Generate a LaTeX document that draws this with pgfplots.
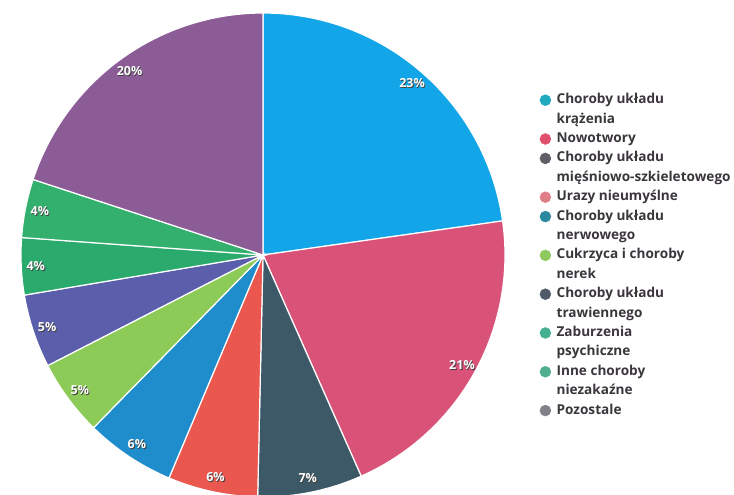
\documentclass[border=0pt]{standalone}
\usepackage{fontspec}
\setmainfont{Open Sans}
\usepackage{pgfplots}
\pgfplotsset{compat=1.18}

\definecolor{s1}{HTML}{12A6E8}
\definecolor{s2}{HTML}{D95277}
\definecolor{s3}{HTML}{3D5866}
\definecolor{s4}{HTML}{E9574E}
\definecolor{s5}{HTML}{1F8CCC}
\definecolor{s6}{HTML}{8CCB58}
\definecolor{s7}{HTML}{5B5FAB}
\definecolor{s8}{HTML}{2AAA6C}
\definecolor{s9}{HTML}{33B06E}
\definecolor{s10}{HTML}{8B5C96}

\definecolor{l1}{HTML}{1EA9BE}
\definecolor{l2}{HTML}{E0506C}
\definecolor{l3}{HTML}{5E5E66}
\definecolor{l4}{HTML}{E07E88}
\definecolor{l5}{HTML}{2A88A0}
\definecolor{l6}{HTML}{8FC95E}
\definecolor{l7}{HTML}{505A68}
\definecolor{l8}{HTML}{44B090}
\definecolor{l9}{HTML}{4FAE8E}
\definecolor{l10}{HTML}{808088}
\definecolor{txt}{HTML}{3A363C}

\newcommand\cum{0}
% #1 value (percent), #2 colour, #3 label, #4 radius factor of label
\newcommand{\pieslice}[4]{%
  \pgfmathsetmacro{\angA}{\cum*3.6}%
  \pgfmathsetmacro{\angB}{(\cum+#1)*3.6}%
  \pgfmathsetmacro{\angM}{(\angA+\angB)/2}%
  \pgfmathsetmacro{\lx}{263+#4*242*sin(\angM)}%
  \pgfmathsetmacro{\ly}{240+#4*242*cos(\angM)}%
  \pgfmathsetmacro{\lxs}{\lx+0.9}%
  \pgfmathsetmacro{\lys}{\ly-0.9}%
  \edef\doslice{%
    \noexpand\addplot[fill=#2, draw=white, line width=1.2pt, domain=\angA:\angB, samples=60, forget plot]
      ({263+242*sin(x)}, {240+242*cos(x)}) -- (axis cs:263,240) -- cycle;
    \noexpand\node[labsh] at (axis cs:\lxs,\lys) {#3};
    \noexpand\node[lab] at (axis cs:\lx,\ly) {#3};
  }%
  \doslice
  \pgfmathsetmacro{\cum}{\cum+#1}%
}

\begin{document}
\begin{tikzpicture}[
  lab/.style={font=\bfseries\fontsize{12.5}{14}\selectfont, text=white, inner sep=0pt},
  labsh/.style={font=\bfseries\fontsize{12.5}{14}\selectfont, text=black!75, inner sep=0pt}]
\useasboundingbox (0,0) rectangle (734pt,495pt);
\clip (0,0) rectangle (734pt,495pt);
\begin{axis}[
  at={(0,0)}, anchor=south west,
  width=734pt, height=495pt, scale only axis,
  xmin=0, xmax=734, ymin=0, ymax=495,
  axis lines=none, ticks=none,
  legend cell align=left,
  legend image code/.code={\fill (5.5pt,0pt) circle (5.5pt);},
  legend style={at={(axis cs:539.5,401.5)}, anchor=north west, draw=none, fill=none,
    inner sep=0pt, row sep=6.4pt, column sep=5.5pt,
    font=\bfseries\fontsize{13.6}{15}\selectfont,
    nodes={inner sep=0pt, text height=10pt, text depth=3pt, text=txt}},
]
\pieslice{22.75}{s1}{23\%}{0.94}
\pieslice{20.6}{s2}{21\%}{0.94}
\pieslice{7.0}{s3}{7\%}{0.94}
\pieslice{6.0}{s4}{6\%}{0.94}
\pieslice{6.0}{s5}{6\%}{0.94}
\pieslice{5.1}{s6}{5\%}{0.94}
\pieslice{4.9}{s7}{5\%}{0.94}
\pieslice{3.8}{s8}{4\%}{0.94}
\pieslice{3.9}{s9}{4\%}{0.94}
\pieslice{19.95}{s10}{20\%}{0.94}

\addlegendimage{color=l1}\addlegendentry{Choroby układu}
\addlegendimage{empty legend}\addlegendentry{krążenia}
\addlegendimage{color=l2}\addlegendentry{Nowotwory}
\addlegendimage{color=l3}\addlegendentry{Choroby układu}
\addlegendimage{empty legend}\addlegendentry{mięśniowo-szkieletowego}
\addlegendimage{color=l4}\addlegendentry{Urazy nieumyślne}
\addlegendimage{color=l5}\addlegendentry{Choroby układu}
\addlegendimage{empty legend}\addlegendentry{nerwowego}
\addlegendimage{color=l6}\addlegendentry{Cukrzyca i choroby}
\addlegendimage{empty legend}\addlegendentry{nerek}
\addlegendimage{color=l7}\addlegendentry{Choroby układu}
\addlegendimage{empty legend}\addlegendentry{trawiennego}
\addlegendimage{color=l8}\addlegendentry{Zaburzenia}
\addlegendimage{empty legend}\addlegendentry{psychiczne}
\addlegendimage{color=l9}\addlegendentry{Inne choroby}
\addlegendimage{empty legend}\addlegendentry{niezakaźne}
\addlegendimage{color=l10}\addlegendentry{Pozostale}
\end{axis}
\end{tikzpicture}
\end{document}
